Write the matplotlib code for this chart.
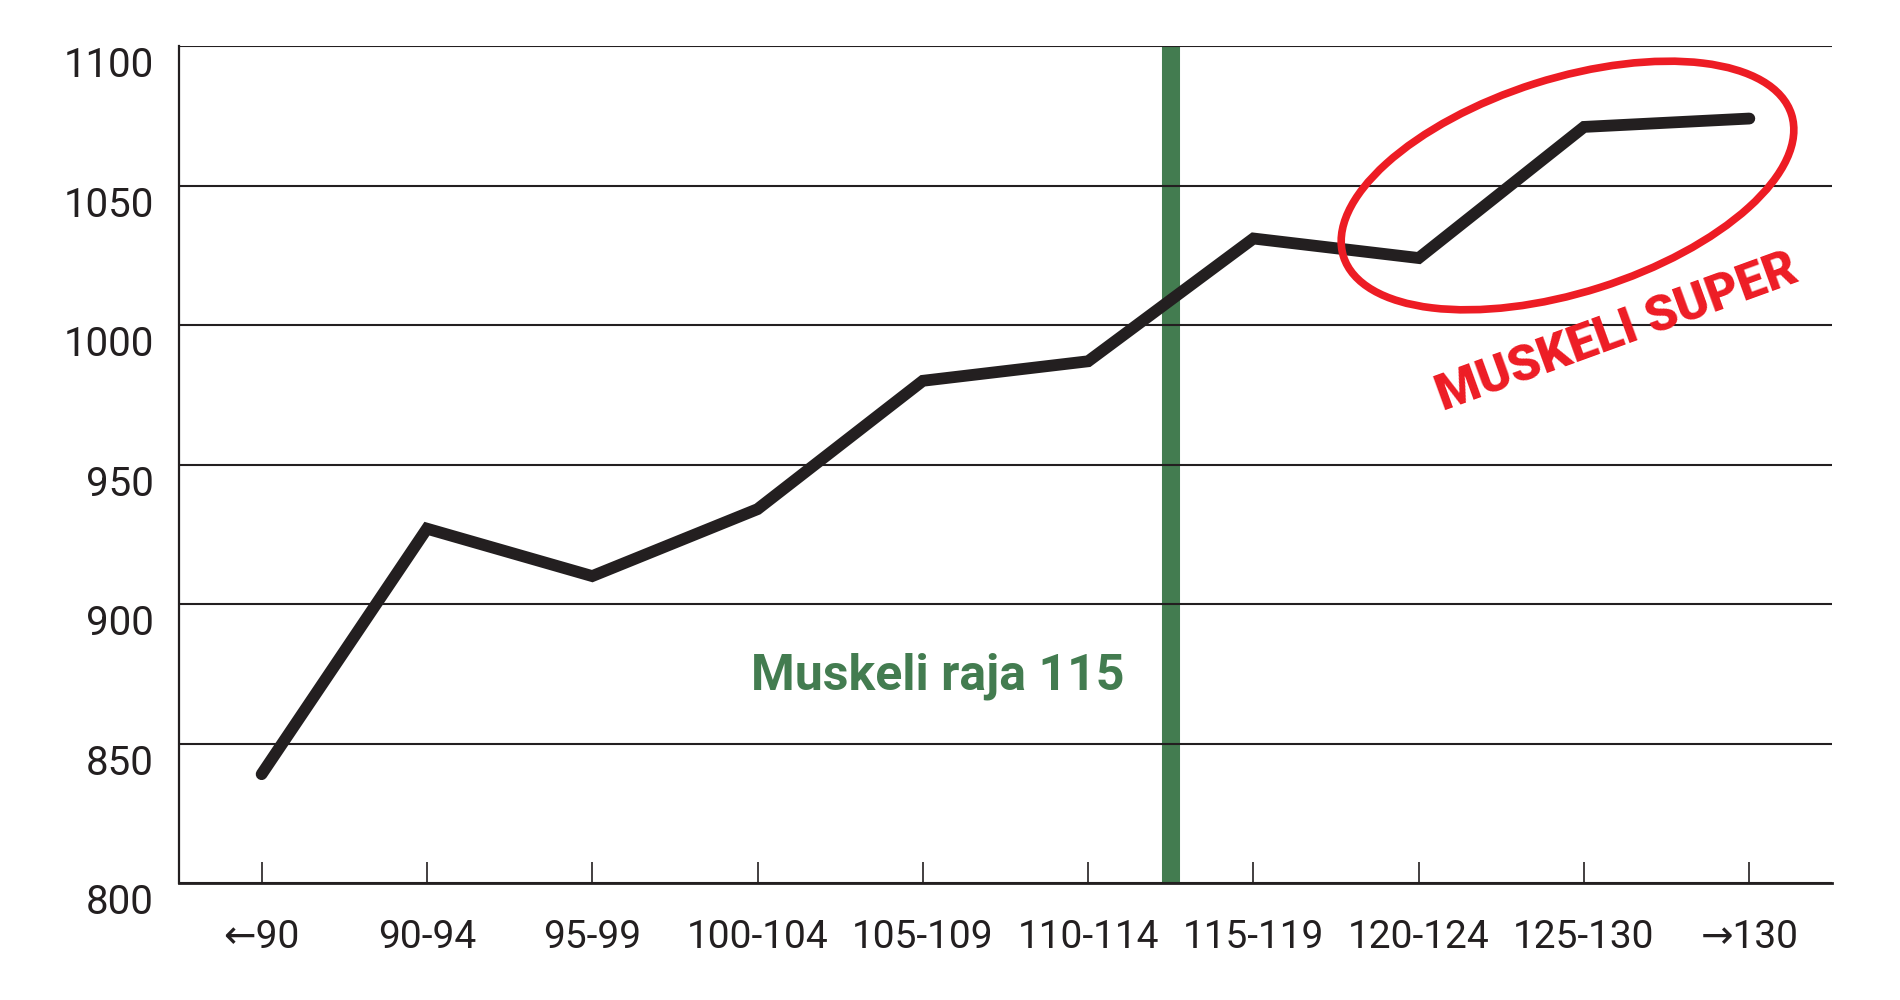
import matplotlib.pyplot as plt
from matplotlib.patches import Ellipse
from matplotlib.transforms import ScaledTranslation

# data
categories = ["\u219090", "90-94", "95-99", "100-104", "105-109",
              "110-114", "115-119", "120-124", "125-130", "\u2192130"]
values = [839, 927, 910, 934, 980, 987, 1031, 1024, 1071, 1074]
y_ticks = [800, 850, 900, 950, 1000, 1050, 1100]
limit_pos = 5.5  # between 110-114 and 115-119

dark = "#231f20"
green = "#437c50"
red = "#ed1c24"
fonts = ["Roboto", "DejaVu Sans"]

fig = plt.figure(figsize=(19, 10), dpi=100)
ax = fig.add_axes([0.0942, 0.117, 0.87, 0.837])

x = list(range(len(categories)))
ax.plot(x, values, color=dark, lw=8.5, solid_capstyle="round",
        solid_joinstyle="miter", zorder=3)

ax.axvline(limit_pos, color=green, lw=13, zorder=0.4)

ax.set_xlim(-0.5, len(categories) - 0.5)
ax.set_ylim(800, 1100)
ax.set_yticks(y_ticks)
ax.set_xticks(x)
ax.set_xticklabels(categories, family=fonts, fontsize=28, color=dark,
                   fontweight="normal")
ax.set_yticklabels([str(v) for v in y_ticks], family=fonts, fontsize=29,
                   color=dark, fontweight="normal", va="top")

ax.set_axisbelow(True)
ax.yaxis.grid(True, color=dark, lw=1.5)
ax.xaxis.grid(False)

for s in ["top", "right"]:
    ax.spines[s].set_visible(False)
ax.spines["left"].set_color(dark)
ax.spines["left"].set_linewidth(1.6)
ax.spines["bottom"].set_color(dark)
ax.spines["bottom"].set_linewidth(2)

ax.tick_params(axis="x", direction="in", length=15, width=1.2, color=dark,
               pad=26)
ax.tick_params(axis="y", length=0, pad=18)

ax.text(5.22, 874, "Muskeli raja 115", color=green, fontsize=36,
        fontweight="bold", family=fonts, ha="right", va="center")

# red ellipse, sized in inches, placed at a data point
ell = Ellipse((0, 0), 4.7, 2.14, angle=17.6, fill=False, edgecolor=red,
              lw=5.5, transform=fig.dpi_scale_trans
              + ScaledTranslation(7.9, 1050, ax.transData),
              clip_on=False, zorder=4)
ax.add_patch(ell)

ax.text(8.2, 997, "MUSKELI SUPER", color=red, fontsize=36,
        fontweight="heavy", family=fonts, ha="center", va="center",
        rotation=20, rotation_mode="anchor")

fig.savefig("out.png", dpi=100)
